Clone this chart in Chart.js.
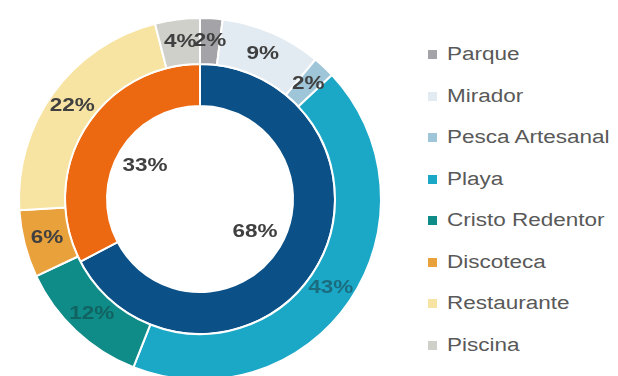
<!DOCTYPE html>
<html>
<head>
<meta charset="utf-8">
<script src="https://cdn.jsdelivr.net/npm/chart.js@4"></script>
<style>
  html, body { margin: 0; padding: 0; background: #fff; overflow: hidden; width: 618px; height: 376px; }
  #wrap { position: absolute; left: 0; top: 0; width: 400px; height: 398px; }
  #legend { position: absolute; left: 428px; top: 34px; font-family: "Liberation Sans", Arial, sans-serif; font-size: 18px; color: #595959; }
  .item { height: 41.5px; display: flex; align-items: center; white-space: nowrap; }
  .box { width: 9px; height: 9px; margin-right: 10px; flex: none; }
  .txt { display: inline-block; transform: scaleX(1.25); transform-origin: left center; }
</style>
</head>
<body>
<div id="wrap"><canvas id="rings"></canvas></div>
<div id="legend"></div>
<script>
/************** data ****************/
const categories = ["Parque", "Mirador", "Pesca Artesanal", "Playa", "Cristo Redentor", "Discoteca", "Restaurante", "Piscina"];
const outerValues = [2, 9, 2, 43, 12, 6, 22, 4];
const innerLabels = ["Grupo A", "Grupo B"];
const innerValues = [68, 33];

/************** styles ****************/
const outerColors = ["#a3a3a8", "#e2ebf2", "#9ec5d8", "#1ba7c6", "#0f8b88", "#e9a13c", "#f7e3a2", "#d0d0cb"];
const innerColors = ["#0b5187", "#ec6912"];
const outerLabelColors = ["#404040", "#404040", "#404040", "rgba(30,60,70,0.55)", "rgba(20,50,50,0.45)", "#404040", "#404040", "#404040"];
const innerLabelColors = ["#404040", "#404040"];

/************** legend ****************/
const legendEl = document.getElementById("legend");
categories.forEach((name, i) => {
    const row = document.createElement("div");
    row.className = "item";
    row.innerHTML = `<span class="box" style="background:${outerColors[i]}"></span><span class="txt">${name}</span>`;
    legendEl.appendChild(row);
});

/************** percentage labels ****************/
const pctLabels = {
    id: "pctLabels",
    afterDatasetsDraw(chart) {
        const ctx = chart.ctx;
        chart.data.datasets.forEach((ds, di) => {
            const meta = chart.getDatasetMeta(di);
            meta.data.forEach((arc, i) => {
                const p = arc.getProps(["x", "y", "startAngle", "endAngle", "innerRadius", "outerRadius"], true);
                const mid = (p.startAngle + p.endAngle) / 2;
                const r = di === 0 ? (p.innerRadius + p.outerRadius) / 2 : p.innerRadius * 0.69;
                const x = p.x + Math.cos(mid) * r;
                const y = p.y + Math.sin(mid) * r;
                ctx.save();
                ctx.translate(x, y);
                ctx.scale(1.25, 1);
                ctx.font = "bold 18px 'Liberation Sans', Arial, sans-serif";
                ctx.fillStyle = ds.labelColors[i];
                ctx.textAlign = "center";
                ctx.textBaseline = "middle";
                ctx.fillText(ds.data[i] + "%", 0, 0);
                ctx.restore();
            });
        });
    }
};

/************** chart ****************/
new Chart(document.getElementById("rings"), {
    type: "doughnut",
    data: {
        labels: categories,
        datasets: [{
            data: outerValues,
            backgroundColor: outerColors,
            borderColor: "#ffffff",
            borderWidth: 2,
            weight: 46,
            labelColors: outerLabelColors
        }, {
            data: innerValues,
            labels: innerLabels,
            backgroundColor: innerColors,
            borderColor: "#ffffff",
            borderWidth: 2,
            weight: 42,
            labelColors: innerLabelColors
        }]
    },
    options: {
        responsive: true,
        maintainAspectRatio: false,
        animation: false,
        cutout: 93,
        layout: { padding: { left: 18, right: 18, top: 17, bottom: 17 } },
        plugins: {
            legend: { display: false },
            tooltip: { enabled: false }
        }
    },
    plugins: [pctLabels]
});
</script>
</body>
</html>
